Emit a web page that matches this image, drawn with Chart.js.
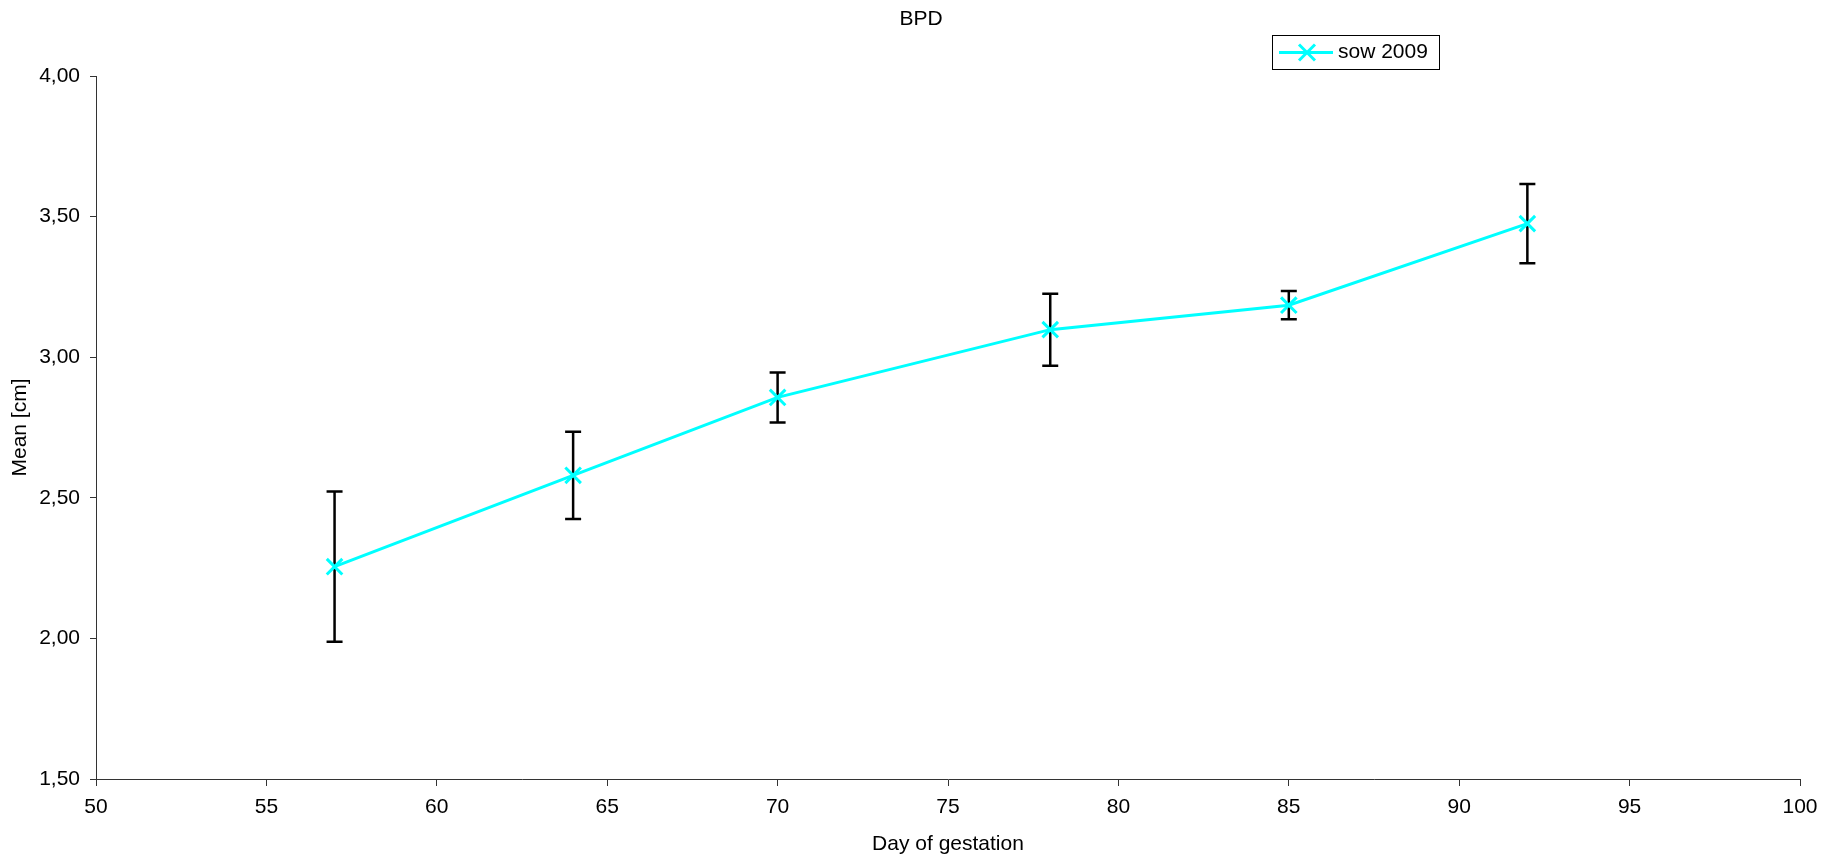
<!DOCTYPE html>
<html>
<head>
<meta charset="utf-8">
<title>BPD</title>
<script src="https://cdn.jsdelivr.net/npm/chart.js@4/dist/chart.umd.min.js"></script>
<style>
  body { margin: 0; background: #fff; }
  #wrap { width: 1836px; height: 864px; }
</style>
</head>
<body>
<div id="wrap"><canvas id="bpdChart" width="1836" height="864"></canvas></div>
<script>
// chart data
var days = [57, 64, 70, 78, 85, 92];
var means = [2.255, 2.58, 2.857, 3.098, 3.185, 3.475];
var errors = [0.267, 0.155, 0.089, 0.128, 0.05, 0.141];
var seriesName = 'sow 2009';
var chartTitle = 'BPD';

var lineColor = '#00FFFF';
var fontFamily = "'Liberation Sans', Arial, sans-serif";

Chart.defaults.font.family = fontFamily;
Chart.defaults.font.size = 21;
Chart.defaults.color = '#000';

// comma as decimal separator on the y axis
function commaLabel(value) {
  return Number(value).toFixed(2).replace('.', ',');
}

// black error bars, drawn under the line so the markers sit on top
var errorBarPlugin = {
  id: 'errorBars',
  beforeDatasetsDraw: function (chart) {
    var ctx = chart.ctx;
    var xs = chart.scales.x;
    var ys = chart.scales.y;
    ctx.save();
    ctx.strokeStyle = '#000';
    ctx.lineWidth = 2.5;
    for (var i = 0; i < days.length; i++) {
      var px = xs.getPixelForValue(days[i]);
      var top = ys.getPixelForValue(means[i] + errors[i]);
      var bot = ys.getPixelForValue(means[i] - errors[i]);
      ctx.beginPath();
      ctx.moveTo(px, top); ctx.lineTo(px, bot);
      ctx.moveTo(px - 8, top); ctx.lineTo(px + 8, top);
      ctx.moveTo(px - 8, bot); ctx.lineTo(px + 8, bot);
      ctx.stroke();
    }
    ctx.restore();
  }
};

// title centred on the whole canvas and the boxed legend top right
var titleLegendPlugin = {
  id: 'titleLegend',
  afterDraw: function (chart) {
    var ctx = chart.ctx;
    ctx.save();
    ctx.fillStyle = '#000';
    ctx.font = '21px ' + fontFamily;
    ctx.textAlign = 'center';
    ctx.textBaseline = 'middle';
    ctx.fillText(chartTitle, chart.width / 2 + 3, 19);

    // legend box
    ctx.strokeStyle = '#000';
    ctx.lineWidth = 1;
    ctx.strokeRect(1272.5, 35.5, 167, 34);

    var ly = 52.5;
    ctx.strokeStyle = lineColor;
    ctx.lineWidth = 3;
    ctx.beginPath();
    ctx.moveTo(1279, ly); ctx.lineTo(1333, ly);
    ctx.moveTo(1299, ly - 8); ctx.lineTo(1315, ly + 8);
    ctx.moveTo(1299, ly + 8); ctx.lineTo(1315, ly - 8);
    ctx.stroke();

    ctx.fillStyle = '#000';
    ctx.textAlign = 'left';
    ctx.fillText(chart.data.datasets[0].label, 1338, ly);
    ctx.restore();
  }
};

var points = [];
for (var i = 0; i < days.length; i++) {
  points.push({ x: days[i], y: means[i] });
}

const ctx = document.getElementById('bpdChart');
const bpdChart = new Chart(ctx, {
  type: 'line',
  data: {
    datasets: [{
      label: seriesName,
      data: points,
      borderColor: lineColor,
      backgroundColor: lineColor,
      borderWidth: 3,
      tension: 0,
      pointStyle: 'crossRot',
      pointRadius: 11,
      pointBorderWidth: 3,
      pointBorderColor: lineColor,
      fill: false
    }]
  },
  options: {
    responsive: false,
    animation: false,
    layout: { padding: { top: 76, right: 36, bottom: 0, left: 0 } },
    plugins: {
      legend: { display: false },
      title: { display: false },
      tooltip: { enabled: false }
    },
    scales: {
      x: {
        type: 'linear',
        min: 50,
        max: 100,
        ticks: { stepSize: 5, color: '#000', padding: 9 },
        grid: { drawOnChartArea: false, drawTicks: true, tickLength: 7, color: '#333' },
        border: { color: '#333', width: 1 },
        title: { display: true, text: 'Day of gestation', color: '#000', padding: { top: 0, bottom: 7 } },
        afterFit: function (scale) { scale.height = 85; }
      },
      y: {
        type: 'linear',
        min: 1.5,
        max: 4,
        ticks: { stepSize: 0.5, color: '#000', padding: 10, callback: commaLabel },
        grid: { drawOnChartArea: false, drawTicks: true, tickLength: 6, color: '#333' },
        border: { color: '#333', width: 1 },
        title: { display: true, text: 'Mean [cm]', color: '#000', padding: { top: 8, bottom: 0 } },
        afterFit: function (scale) { scale.width = 96; }
      }
    }
  },
  plugins: [errorBarPlugin, titleLegendPlugin]
});
</script>
</body>
</html>
